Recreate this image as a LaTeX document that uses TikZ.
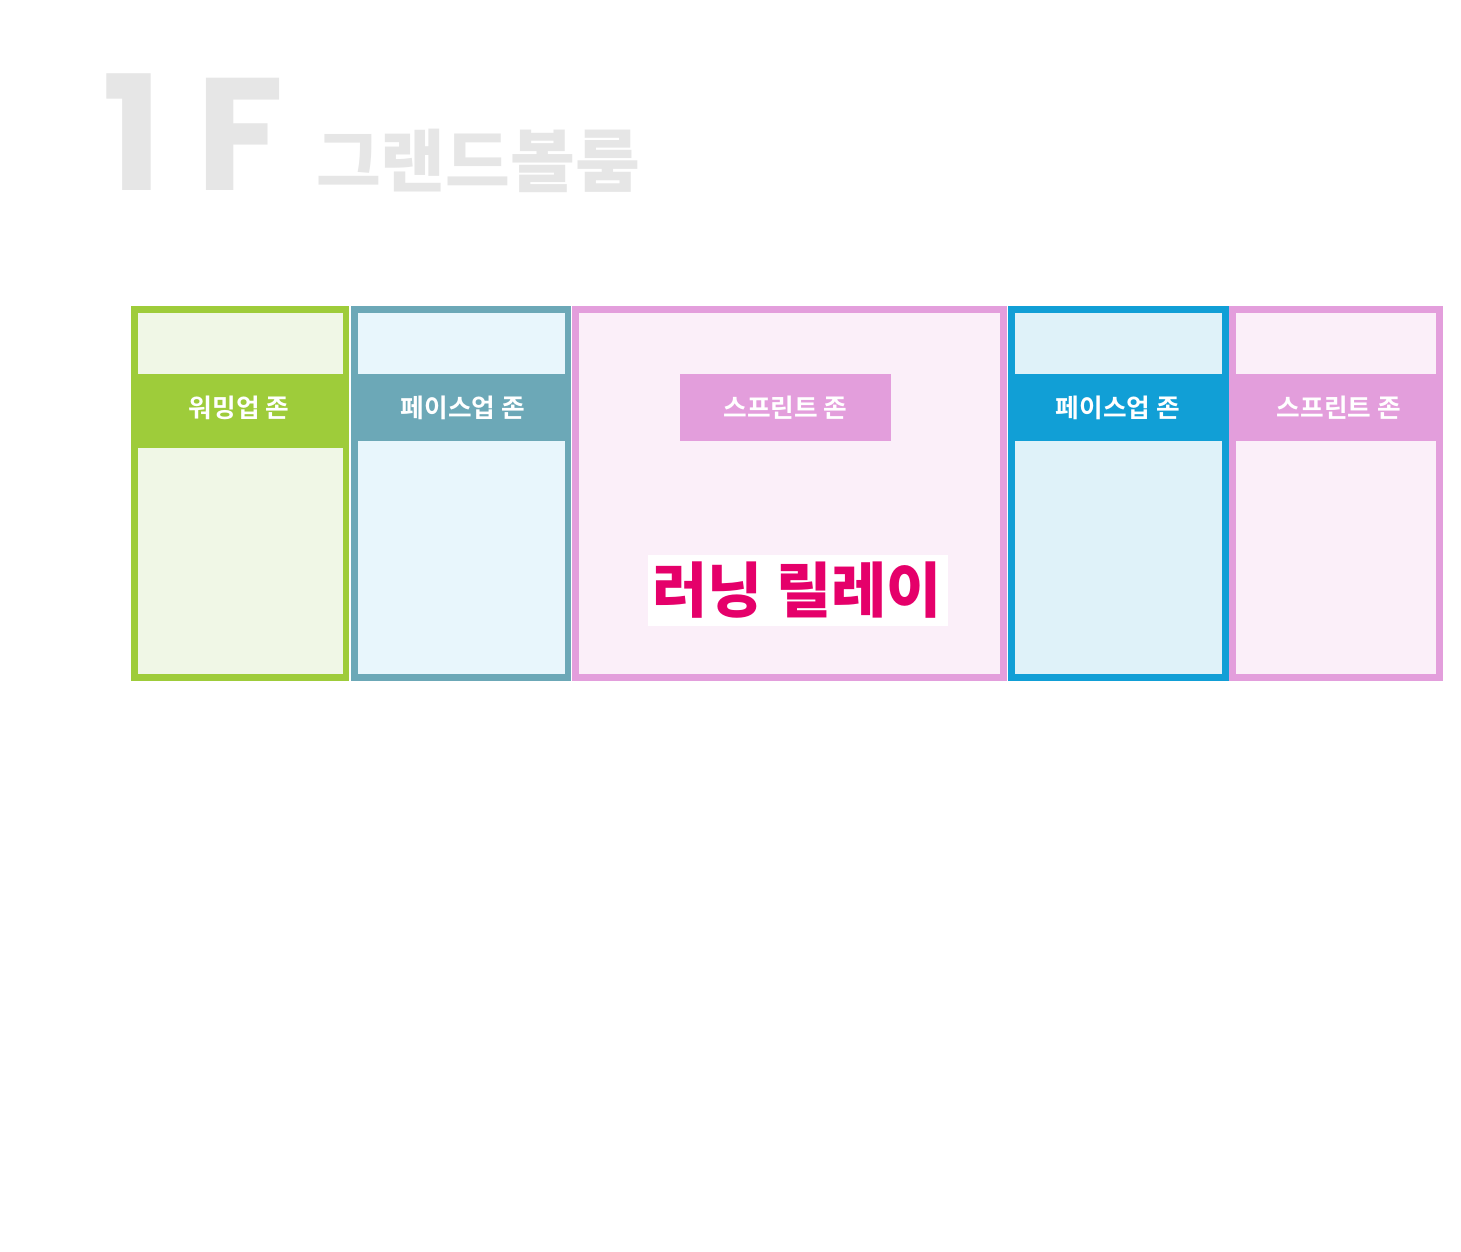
\documentclass[tikz,border=0pt]{standalone}
\usepackage{fontspec}
\newfontfamily\krbold{Noto Sans CJK KR}[UprightFont={* Bold}]
\newfontfamily\krblack{Noto Sans CJK KR}[UprightFont={* Black}]
\newfontfamily\titlelatin{Poppins}[UprightFont={* Bold}]
\definecolor{titlegray}{HTML}{E6E6E6}
\definecolor{cgreen}{HTML}{9ECC3A}
\definecolor{cgreenin}{HTML}{F0F7E6}
\definecolor{cteal}{HTML}{6CA8B7}
\definecolor{ctealin}{HTML}{E8F6FC}
\definecolor{cpink}{HTML}{E39EDC}
\definecolor{cpinkin}{HTML}{FBEFF9}
\definecolor{cblue}{HTML}{119FD6}
\definecolor{cbluein}{HTML}{DFF2F9}
\definecolor{cmag}{HTML}{E5006A}
\tikzset{
  zonelabel/.style={text=white, font=\krbold\fontsize{25.7}{25.7}\selectfont, inner sep=0pt, anchor=center},
}
\begin{document}
\begin{tikzpicture}[x=1pt,y=-1pt]
\useasboundingbox (0,0) rectangle (1461,1252);
\fill[white] (0,0) rectangle (1461,1252);
% title
\node[anchor=base west, inner sep=0pt, text=titlegray, font=\titlelatin\fontsize{160}{160}\selectfont] (floor) at (102,191) {1\kern 34pt F};
\node[anchor=base west, inner sep=0pt, text=titlegray, xscale=1.035, transform shape, font=\krblack\fontsize{68}{68}\selectfont] (hall) at (316,186) {그랜드볼룸};
% zone 1 green
\fill[cgreen] (131,306) rectangle (349,681);
\fill[cgreenin] (138,313) rectangle (343,374);
\fill[cgreenin] (138,448) rectangle (343,674);
\node[zonelabel] (z1) at (239,407.5) {워밍업 존};
% zone 2 teal
\fill[cteal] (351,306) rectangle (571,681);
\fill[ctealin] (358,313) rectangle (565,374);
\fill[ctealin] (358,441) rectangle (565,674);
\node[zonelabel] (z2) at (463,407.5) {페이스업 존};
% zone 3 big pink
\fill[cpink] (572,306) rectangle (1007,681);
\fill[cpinkin] (579,313) rectangle (1000,674);
\fill[cpink] (680,374) rectangle (891,441);
\node[zonelabel] (z3) at (785.5,407.5) {스프린트 존};
\fill[white] (648,555) rectangle (948,626);
\node[inner sep=0pt, anchor=center, text=cmag, font=\krblack\fontsize{60}{60}\selectfont] (relay) at (797,590.5) {러닝 릴레이};
% zone 4 blue
\fill[cblue] (1008,306) rectangle (1229,681);
\fill[cbluein] (1015,313) rectangle (1222,374);
\fill[cbluein] (1015,441) rectangle (1222,674);
\node[zonelabel] (z4) at (1118,407.5) {페이스업 존};
% zone 5 pink
\fill[cpink] (1229,306) rectangle (1443,681);
\fill[cpinkin] (1236,313) rectangle (1436,374);
\fill[cpinkin] (1236,441) rectangle (1436,674);
\node[zonelabel] (z5) at (1339,407.5) {스프린트 존};
\end{tikzpicture}
\end{document}
